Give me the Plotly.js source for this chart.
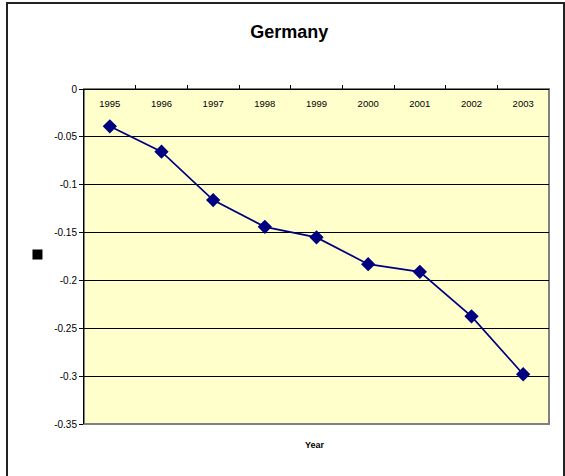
<!DOCTYPE html>
<html>
<head>
<meta charset="utf-8">
<script src="https://cdn.plot.ly/plotly-3.0.1.min.js"></script>
<style>
html,body{margin:0;padding:0;background:#fff;}
#chart{width:565px;height:476px;}
</style>
</head>
<body>
<div id="chart"></div>
<script>
const years = ['1995','1996','1997','1998','1999','2000','2001','2002','2003'];
const values = [-0.039, -0.0655, -0.116, -0.144, -0.155, -0.183, -0.191, -0.2375, -0.298];
const yTicks = [0, -0.05, -0.1, -0.15, -0.2, -0.25, -0.3, -0.35];
const yTickText = ['0', '-0.05', '-0.1', '-0.15', '-0.2', '-0.25', '-0.3', '-0.35'];

const trace = {
  x: years,
  y: values,
  type: 'scatter',
  mode: 'lines+markers',
  line: {color: '#000080', width: 1.75},
  marker: {symbol: 'diamond', size: 11, color: '#000080', line: {width: 0}},
  hoverinfo: 'x+y',
  cliponaxis: false
};

const layout = {
  width: 565,
  height: 476,
  margin: {l: 84, r: 16, t: 89, b: 52},
  paper_bgcolor: '#ffffff',
  plot_bgcolor: '#FFFFCC',
  showlegend: false,
  font: {family: 'Arial, Liberation Sans, sans-serif', color: '#000', size: 10},
  title: {
    text: '<b>Germany</b>',
    font: {family: 'Arial, Liberation Sans, sans-serif', size: 18, color: '#000'},
    xref: 'container', x: 0.512, xanchor: 'center',
    yref: 'container', y: 0.933, yanchor: 'middle'
  },
  xaxis: {
    type: 'category',
    side: 'bottom',
    anchor: 'free',
    position: 1,
    range: [-0.5, 8.5],
    showgrid: false,
    zeroline: false,
    showline: true,
    linecolor: '#000',
    linewidth: 1,
    ticks: 'inside',
    tickson: 'boundaries',
    ticklen: 4,
    tickcolor: '#000',
    ticklabelstandoff: 6,
    tickfont: {size: 9.5, color: '#000'},
    fixedrange: true
  },
  yaxis: {
    range: [-0.35, 0],
    tickvals: yTicks,
    ticktext: yTickText,
    showgrid: true,
    gridcolor: '#000',
    gridwidth: 1,
    zeroline: false,
    showline: true,
    linecolor: '#000',
    linewidth: 1,
    ticks: 'outside',
    ticklen: 4,
    tickcolor: '#000',
    tickfont: {size: 10, color: '#000'},
    fixedrange: true
  },
  shapes: [
    {type: 'rect', xref: 'paper', yref: 'paper', x0: 0, x1: 1, y0: 0, y1: 1,
     line: {color: '#808080', width: 2}, layer: 'below'},
    {type: 'rect', xref: 'paper', yref: 'paper', x0: -0.1656, x1: 1.0323, y0: -0.2, y1: 1.2567,
     line: {color: '#222', width: 2}},
    {type: 'rect', xref: 'paper', yref: 'paper', x0: -0.1108, x1: -0.0893, y0: 0.4910, y1: 0.5209,
     fillcolor: '#000', line: {width: 0}}
  ],
  annotations: [
    {text: '<b>Year</b>', xref: 'paper', yref: 'paper', x: 0.497, y: -0.063,
     xanchor: 'center', yanchor: 'middle', showarrow: false,
     font: {size: 9, color: '#000'}}
  ]
};

Plotly.newPlot('chart', [trace], layout, {displayModeBar: false, staticPlot: true});
</script>
</body>
</html>
